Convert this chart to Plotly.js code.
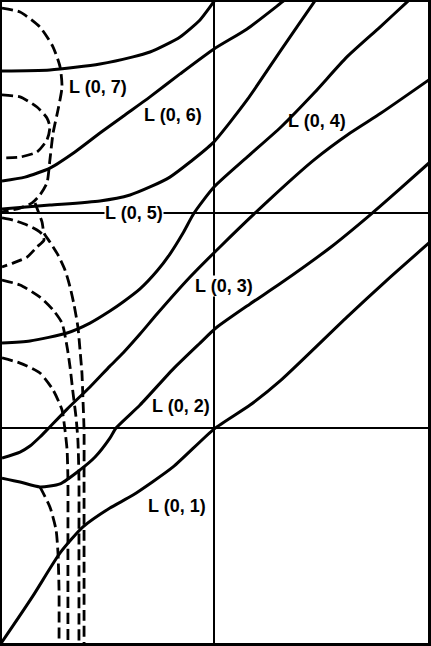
<!DOCTYPE html>
<html>
<head>
<meta charset="utf-8">
<script src="https://cdn.plot.ly/plotly-3.0.1.min.js"></script>
<style>html,body{margin:0;padding:0;background:#fff;}#chart{width:431px;height:646px;}</style>
</head>
<body>
<div id="chart"></div>
<script>
// Solid curves (x, y in chart units; x 0..2, y 0..3)
const s1x = [0, 0.226, 0.462, 0.618, 0.698, 0.769, 0.840, 0.934, 0.995, 1.038];
const s1y = [2.660, 2.665, 2.693, 2.726, 2.749, 2.781, 2.819, 2.898, 2.977, 3.037];
const s2x = [0, 0.108, 0.226, 0.344, 0.462, 0.580, 0.698, 0.840, 1.0, 1.156, 1.321, 1.382];
const s2y = [2.149, 2.167, 2.209, 2.284, 2.372, 2.456, 2.540, 2.647, 2.763, 2.856, 2.981, 3.028];
const s3x = [0, 0.226, 0.462, 0.604, 0.698, 0.792, 0.887, 0.995, 1.156, 1.316, 1.472, 1.509];
const s3y = [2.019, 2.037, 2.056, 2.084, 2.121, 2.167, 2.237, 2.326, 2.526, 2.758, 2.981, 3.037];
const s4x = [0, 0.132, 0.307, 0.415, 0.509, 0.571, 0.651, 0.731, 0.792, 0.854, 0.906, 1.0, 1.156, 1.316, 1.472, 1.627, 1.783, 1.910, 1.962];
const s4y = [1.395, 1.405, 1.442, 1.488, 1.544, 1.586, 1.647, 1.730, 1.809, 1.907, 2.0, 2.121, 2.260, 2.400, 2.558, 2.726, 2.865, 2.981, 3.028];
const s5x = [0, 0.085, 0.132, 0.179, 0.212, 0.307, 0.415, 0.509, 0.571, 0.651, 0.731, 0.887, 1.028, 1.259, 1.472, 1.642, 1.788, 2.019];
const s5y = [0.860, 0.888, 0.916, 0.958, 0.991, 1.088, 1.191, 1.288, 1.349, 1.437, 1.530, 1.702, 1.842, 2.060, 2.247, 2.372, 2.465, 2.623];
const s6x = [0, 0.085, 0.179, 0.274, 0.368, 0.439, 0.509, 0.538, 0.651, 0.807, 0.934, 1.009, 1.170, 1.316, 1.552, 1.741, 1.877, 2.019];
const s6y = [0.767, 0.749, 0.726, 0.740, 0.805, 0.865, 0.953, 1.0, 1.107, 1.274, 1.395, 1.465, 1.577, 1.674, 1.842, 1.995, 2.112, 2.237];
const s7x = [-0.033, 0, 0.146, 0.274, 0.382, 0.509, 0.618, 0.807, 1.0, 1.170, 1.316, 1.627, 1.816, 2.019];
const s7y = [-0.042, 0.005, 0.219, 0.419, 0.540, 0.628, 0.688, 0.819, 0.995, 1.107, 1.223, 1.516, 1.688, 1.865];

// Dashed curves
const d0x = [0, 0.085, 0.165, 0.212, 0.226, 0.212, 0.165, 0.085, 0];
const d0y = [2.549, 2.540, 2.493, 2.442, 2.400, 2.340, 2.284, 2.260, 2.256];
const d1x = [0, 0.085, 0.179, 0.241, 0.274, 0.283, 0.264, 0.241, 0.226, 0.212, 0.179, 0.142, 0.085, 0];
const d1y = [2.953, 2.935, 2.865, 2.772, 2.679, 2.586, 2.479, 2.372, 2.247, 2.140, 2.084, 2.047, 2.023, 2.005];
const d2x = [0, 0.052, 0.118, 0.165, 0.189, 0.198, 0.165, 0.118, 0.052, 0];
const d2y = [1.977, 1.967, 1.944, 1.921, 1.902, 1.874, 1.842, 1.795, 1.767, 1.749];
const d3x = [0.156, 0.170, 0.189, 0.198, 0.226, 0.264, 0.297, 0.321, 0.340, 0.358, 0.368, 0.377, 0.382, 0.387, 0.387, 0.387];
const d3y = [2.047, 2.009, 1.958, 1.907, 1.865, 1.805, 1.735, 1.656, 1.572, 1.470, 1.363, 1.256, 1.130, 0.991, 0.758, 0];
const d4x = [0, 0.085, 0.179, 0.241, 0.283, 0.307, 0.321, 0.335, 0.349, 0.358, 0.363, 0.363, 0.363];
const d4y = [1.688, 1.665, 1.609, 1.549, 1.488, 1.377, 1.284, 1.163, 1.051, 0.944, 0.758, 0.479, 0];
const d5x = [0, 0.085, 0.179, 0.241, 0.283, 0.297, 0.307, 0.311, 0.311, 0.311];
const d5y = [1.326, 1.302, 1.256, 1.177, 1.084, 0.991, 0.898, 0.758, 0.479, 0];
const d6x = [0.179, 0.226, 0.255, 0.264, 0.269, 0.269];
const d6y = [0.726, 0.633, 0.526, 0.419, 0.247, 0];

// Labels
const labelText = ["L (0, 7)", "L (0, 6)", "L (0, 5)", "L (0, 4)", "L (0, 3)", "L (0, 2)", "L (0, 1)"];
const labelX = [0.453, 0.807, 0.623, 1.486, 1.047, 0.844, 0.825];
const labelY = [2.586, 2.456, 2.000, 2.428, 1.660, 1.102, 0.637];
const labelBg = [false, false, true, false, true, false, false];

const solids = [[s1x,s1y],[s2x,s2y],[s3x,s3y],[s4x,s4y],[s5x,s5y],[s6x,s6y],[s7x,s7y]];
const dashes = [[d0x,d0y],[d1x,d1y],[d2x,d2y],[d3x,d3y],[d4x,d4y],[d5x,d5y],[d6x,d6y]];

const traces = [];
solids.forEach(([x,y]) => traces.push({x, y, type:'scatter', mode:'lines', line:{color:'#000', width:3, shape:'spline', smoothing:0.6}, hoverinfo:'skip'}));
dashes.forEach(([x,y]) => traces.push({x, y, type:'scatter', mode:'lines', line:{color:'#000', width:2.8, dash:'11px,5px', shape:'spline', smoothing:0.6}, hoverinfo:'skip'}));

const annotations = labelText.map((t,i) => ({
  x: labelX[i], y: labelY[i], xref:'x', yref:'y', text:'<b>'+t+'</b>', showarrow:false,
  font:{family:'Liberation Sans, Arial, sans-serif', size:18, color:'#000'},
  bgcolor: labelBg[i] ? '#fff' : 'rgba(0,0,0,0)', borderpad: 0
}));

const layout = {
  width:431, height:646,
  margin:{l:2, r:3, t:2, b:3},
  paper_bgcolor:'#fff', plot_bgcolor:'#fff',
  showlegend:false,
  xaxis:{range:[0, 2.0094], tickvals:[1], showticklabels:false, ticks:'', showgrid:true, gridcolor:'#000', gridwidth:2, zeroline:false, showline:true, mirror:true, linecolor:'#000', linewidth:3.5, fixedrange:true},
  yaxis:{range:[0, 2.9814], tickvals:[1,2], showticklabels:false, ticks:'', showgrid:true, gridcolor:'#000', gridwidth:2, zeroline:false, showline:true, mirror:true, linecolor:'#000', linewidth:3.5, fixedrange:true},
  annotations
};
Plotly.newPlot('chart', traces, layout, {staticPlot:true, displayModeBar:false});
</script>
</body>
</html>
